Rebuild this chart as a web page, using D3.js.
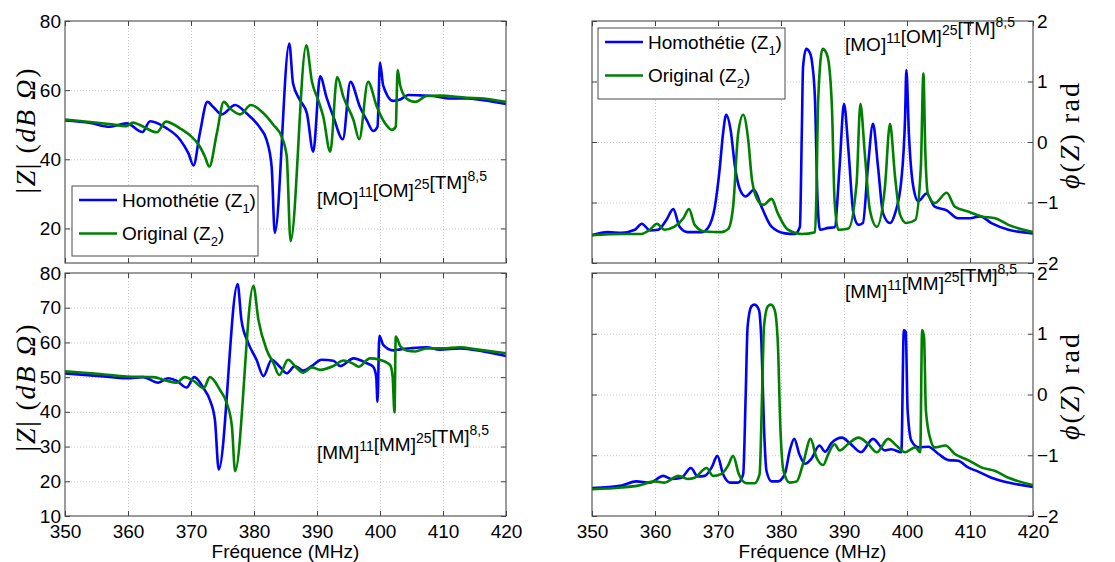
<!DOCTYPE html>
<html><head><meta charset="utf-8">
<script src="https://cdn.jsdelivr.net/npm/d3@7"></script>
<style>
body{margin:0;background:#fff;}
svg{display:block;background:#fff;}
</style></head><body>
<svg id="c" width="1115" height="562"></svg>
<script>
// ---------- data ----------
const freqDomain = [350, 420];
const freqTicks = [350, 360, 370, 380, 390, 400, 410, 420];
const magTopDomain = [10, 80];
const magTopTicks = [20, 40, 60, 80];
const magBotDomain = [10, 80];
const magBotTicks = [10, 20, 30, 40, 50, 60, 70, 80];
const phaseDomain = [-2, 2];
const phaseTicks = [-2, -1, 0, 1, 2];
const seriesLabels = ["Homothétie (Z", "Original (Z"];
const seriesSubs = ["1", "2"];
const seriesColors = ["#0000ff", "#008000"];
const topAnnot = [["[MO]", "11"], ["[OM]", "25"], ["[TM]", "8,5"]];
const botAnnot = [["[MM]", "11"], ["[MM]", "25"], ["[TM]", "8,5"]];
const xTitle = "Fréquence (MHz)";

// [frequency MHz, |Z| dB Ohm] — configuration [MO]11[OM]25[TM]8,5
const magTopZ1 = [[350,51.2],[354,50.5],[357.1,49.4],[359.8,50.4],[362.3,47.9],[363.5,51],[366.1,49],[368.3,45.6],[369.6,41.7],[370.4,38.2],[371.4,47.5],[372.6,56.6],[373.5,55.2],[374.9,53],[377,55.7],[378.8,53.3],[381,49],[382,45.6],[382.8,37.9],[383.3,18.7],[385.6,73.5],[386.2,61.9],[387.3,57.1],[388.4,53.3],[389.4,42.2],[390.5,64],[391.5,58],[392.6,52.3],[394.1,45.8],[395.3,62.4],[396.8,55.2],[397.9,51.3],[398.9,48.2],[399.6,49.4],[400,68],[400.5,61.4],[402.1,56.9],[403.2,57.3],[404.5,58.6],[406.3,58.5],[408.5,58.3],[411.1,57.6],[413.8,57.6],[416.4,57.1],[420,56]];
const magTopZ2 = [[350,51.5],[354,50.8],[357,50.2],[359.8,49.6],[360.8,50.6],[361.9,49.9],[364.6,47.8],[366,50.9],[368.3,48.9],[369.8,47],[371.4,43.7],[372.2,40.8],[372.9,37.9],[374.1,47.5],[375.2,56.6],[376.2,54.7],[377.8,53],[379.5,55.7],[381.5,53.3],[383.1,49.9],[384.4,46.5],[385.2,40.8],[385.8,16.3],[388.3,73],[389.2,62.4],[390.2,57.1],[391,52.3],[392.1,42.2],[393.2,63.8],[394.2,58],[395.8,51.3],[396.7,45.8],[398.1,62.4],[399.5,55.2],[400.8,50.4],[401.9,48.5],[402.5,49.4],[402.8,65.8],[403.2,61.4],[404.2,57.6],[405.6,56.6],[407.4,58.3],[409.5,58.4],[413.8,57.8],[416.4,57.6],[420,56.6]];
// [frequency MHz, phase rad] — configuration [MO]11[OM]25[TM]8,5
const phaseTopZ1 = [[350,-1.54],[352.5,-1.49],[354.7,-1.5],[356.8,-1.45],[357.9,-1.35],[359.2,-1.46],[360.5,-1.45],[361.8,-1.29],[362.9,-1.11],[363.9,-1.4],[365.2,-1.49],[367.4,-1.49],[368.4,-1.42],[369.5,-1.07],[370.3,-0.41],[370.8,0.14],[371.3,0.45],[372,0.2],[372.7,-0.41],[373.5,-0.79],[374.4,-0.9],[375.7,-0.79],[376.9,-1.07],[378.5,-1.4],[380.6,-1.51],[382.2,-1.52],[383,-1.4],[383.3,0.14],[383.5,1.24],[384,1.54],[384.6,1.47],[384.95,1.3],[385.4,0.69],[385.8,-0.96],[386.2,-1.45],[387.5,-1.42],[388.5,-1.41],[389.3,-0.41],[390,0.63],[390.7,-0.13],[391.5,-1.18],[392.3,-1.37],[393,-1.34],[393.8,-0.41],[394.6,0.3],[395.4,-0.41],[396.2,-1.18],[397.3,-1.34],[398.1,-1.18],[399.1,-0.63],[399.7,0.42],[399.9,1.19],[400.3,0.14],[401,-0.74],[401.8,-0.98],[403.1,-0.85],[404.4,-1.07],[406.3,-1.13],[408.1,-1.26],[410,-1.26],[411.6,-1.23],[413.4,-1.34],[416.1,-1.45],[420,-1.51]];
const phaseTopZ2 = [[350,-1.54],[354.7,-1.52],[357.8,-1.52],[359.2,-1.45],[360.3,-1.35],[361.5,-1.45],[363.1,-1.4],[364.5,-1.26],[365.4,-1.11],[366.3,-1.37],[367.9,-1.48],[370.5,-1.49],[371.6,-1.44],[372.4,-1.07],[373.2,0.14],[374,0.45],[374.8,0.03],[375.4,-0.63],[376.4,-0.98],[377.2,-1.04],[378.5,-0.94],[379.5,-1.18],[381.1,-1.45],[383.3,-1.52],[385.4,-1.49],[385.6,-0.96],[385.9,0.69],[386.6,1.54],[387.2,1.47],[387.6,1.3],[388.1,0.53],[388.5,-0.96],[389.1,-1.45],[390.7,-1.43],[392,-0.68],[392.6,0.63],[393.3,-0.19],[394.1,-1.12],[395.2,-1.4],[396.5,-0.74],[397.3,0.3],[398.1,-0.57],[398.9,-1.2],[399.9,-1.34],[401.3,-1.29],[402.2,-0.41],[402.6,1.13],[402.9,-0.13],[403.3,-0.85],[404.4,-1.01],[406.3,-0.84],[407.6,-1.07],[409.7,-1.15],[411.8,-1.23],[414,-1.26],[416.1,-1.37],[420,-1.49]];
// [frequency MHz, |Z| dB Ohm] — configuration [MM]11[MM]25[TM]8,5
const magBotZ1 = [[350,51.1],[355.6,50.3],[359.8,49.7],[362.4,50],[364.8,48.4],[366.4,49.7],[367.7,49],[369.3,47],[370.5,50],[372,46.8],[373,43.4],[373.8,37.6],[374.4,23.4],[377.4,76.8],[378,66.5],[379.1,59.8],[380.4,55],[381.5,50.3],[382.8,55],[384.1,53],[385.2,51.1],[386.5,53.2],[387.8,51.9],[389.4,53.5],[390.7,55],[392.6,54.7],[393.7,53.2],[395.8,55.4],[397.9,54],[398.9,53],[399.4,50.2],[399.6,42.9],[399.9,61.9],[400.5,59.3],[402.1,57.7],[403.2,58],[404.8,58.3],[407.4,58.6],[409.5,57.9],[412.7,58.3],[416.4,57.4],[420,56.1]];
const magBotZ2 = [[350,51.7],[355.6,50.9],[359.8,50.2],[364,50],[366.1,49],[367.7,48.4],[369,50],[370.6,48.7],[372,46.8],[373,50],[374.6,46.3],[375.7,42.4],[376.5,35.7],[377,22.9],[379.9,76.3],[380.7,66.5],[382,57.9],[383.1,54],[384,50.6],[385.4,55],[386.8,52.6],[387.8,51.3],[389.2,52.8],[390.5,52.1],[392.6,53.2],[394.2,54.8],[395.8,53.8],[396.6,53],[398.4,55.4],[400,55],[401.6,53.5],[402,50.2],[402.3,39.8],[402.5,61.7],[403.2,59],[404.2,57.7],[405.6,57.4],[407.4,58.3],[410,58.3],[412.7,58.6],[415.3,58],[420,56.9]];
// [frequency MHz, phase rad] — configuration [MM]11[MM]25[TM]8,5
const phaseBotZ1 = [[350,-1.54],[354.7,-1.5],[357,-1.43],[359.2,-1.45],[361.3,-1.34],[362.6,-1.39],[364.2,-1.37],[365.7,-1.21],[366.8,-1.35],[367.9,-1.34],[369,-1.2],[369.9,-1.01],[370.8,-1.31],[371.9,-1.45],[373.2,-1.45],[374,-1.31],[374.4,0.01],[374.7,1.12],[375.3,1.45],[375.8,1.48],[376.5,1.39],[376.9,0.84],[377.3,-0.54],[377.7,-1.26],[378.5,-1.43],[379.5,-1.43],[380.6,-1.31],[381.4,-0.92],[382.1,-0.73],[382.9,-0.98],[383.8,-1.14],[384.8,-1.06],[386.1,-0.84],[387,-0.94],[388,-0.8],[389.7,-0.71],[390.9,-0.8],[392.7,-0.95],[394.6,-0.73],[396.5,-0.92],[397.5,-0.9],[399.1,-0.95],[399.5,1.06],[399.8,1.03],[400.1,-0.26],[400.7,-0.76],[401.8,-0.87],[403.4,-0.86],[405,-0.98],[406.6,-1.08],[408.1,-1.09],[409.7,-1.2],[411.3,-1.27],[413.4,-1.37],[416.1,-1.45],[420,-1.52]];
const phaseBotZ2 = [[350,-1.56],[354.7,-1.53],[357.3,-1.5],[360,-1.43],[361.5,-1.45],[363.7,-1.34],[365.2,-1.39],[366.3,-1.37],[368.2,-1.21],[369.2,-1.34],[370.5,-1.31],[371.6,-1.17],[372.4,-1.01],[373.3,-1.31],[374.5,-1.46],[375.8,-1.46],[376.6,-1.31],[377,0.01],[377.3,1.12],[377.9,1.45],[378.4,1.48],[379,1.39],[379.5,0.84],[379.9,-0.54],[380.4,-1.26],[381.4,-1.45],[382.5,-1.43],[383.5,-1.14],[384.7,-0.73],[385.6,-1.03],[386.7,-1.16],[387.5,-0.98],[388.5,-0.82],[389.3,-0.92],[390.7,-0.81],[392.3,-0.71],[393.8,-0.81],[395.2,-0.95],[397,-0.73],[398.3,-0.84],[399.7,-0.95],[401.3,-0.87],[402.1,-0.95],[402.4,1.06],[402.7,0.95],[403,-0.26],[403.7,-0.73],[404.4,-0.87],[406.1,-0.84],[407.6,-0.98],[409.7,-1.08],[411.8,-1.2],[414,-1.26],[416.1,-1.37],[420,-1.49]];

// ---------- drawing ----------
const SANS = '"Liberation Sans", Arial, Helvetica, sans-serif';
const SERIF = '"Liberation Serif", "Times New Roman", serif';
const FS = 19;
const svg = d3.select("#c");
const defs = svg.append("defs");

function styleAxis(a) {
  a.select(".domain").remove();
  a.selectAll("line").attr("stroke", "#444").attr("stroke-width", 1);
  a.selectAll("text").attr("font-family", SANS).attr("font-size", FS).attr("fill", "#000");
}

function drawPanel(p) {
  const x = d3.scaleLinear().domain(freqDomain).range([p.x0, p.x1]);
  const y = d3.scaleLinear().domain(p.yDomain).range([p.y1, p.y0]);
  const w = p.x1 - p.x0, h = p.y1 - p.y0;
  const g = svg.append("g");
  g.append("rect").attr("x", p.x0).attr("y", p.y0).attr("width", w).attr("height", h).attr("fill", "#fff");

  // grid
  const gx = g.append("g").attr("transform", `translate(0,${p.y1})`)
    .call(d3.axisBottom(x).tickValues(freqTicks.slice(1, -1)).tickSize(-h).tickFormat(""));
  const gy = g.append("g").attr("transform", `translate(${p.x0},0)`)
    .call(d3.axisLeft(y).tickValues(p.yTicks.filter(v => v > p.yDomain[0] && v < p.yDomain[1])).tickSize(-w).tickFormat(""));
  [gx, gy].forEach(a => {
    a.select(".domain").remove();
    a.selectAll("line").attr("stroke", "#bdbdbd").attr("stroke-width", 0.8).attr("stroke-dasharray", "1,2");
  });

  // curves
  const cid = "clip" + p.id;
  defs.append("clipPath").attr("id", cid).append("rect")
    .attr("x", p.x0).attr("y", p.y0).attr("width", w).attr("height", h);
  const line = d3.line().x(d => x(d[0])).y(d => y(d[1])).curve(d3.curveMonotoneX);
  p.series.forEach((s, i) => {
    g.append("path").attr("d", line(s)).attr("fill", "none")
      .attr("stroke", seriesColors[i]).attr("stroke-width", 2.6)
      .attr("stroke-linejoin", "round").attr("clip-path", `url(#${cid})`);
  });

  // inward ticks + labels
  const tk = 5;
  const ab = g.append("g").attr("transform", `translate(0,${p.y1})`)
    .call(d3.axisBottom(x).tickValues(freqTicks).tickSizeInner(-tk).tickSizeOuter(0).tickPadding(9)
      .tickFormat(p.showX ? d3.format("d") : ""));
  styleAxis(ab);
  const at = g.append("g").attr("transform", `translate(0,${p.y0})`)
    .call(d3.axisTop(x).tickValues(freqTicks).tickSizeInner(-tk).tickSizeOuter(0).tickFormat(""));
  styleAxis(at);
  const al = g.append("g").attr("transform", `translate(${p.x0},0)`)
    .call(d3.axisLeft(y).tickValues(p.yTicks).tickSizeInner(-tk).tickSizeOuter(0).tickPadding(4)
      .tickFormat(p.labelSide === "left" ? d3.format("d") : ""));
  styleAxis(al);
  const ar = g.append("g").attr("transform", `translate(${p.x1},0)`)
    .call(d3.axisRight(y).tickValues(p.yTicks).tickSizeInner(-tk).tickSizeOuter(0).tickPadding(4)
      .tickFormat(p.labelSide === "right" ? d3.format("d") : ""));
  styleAxis(ar);

  // box
  g.append("rect").attr("x", p.x0).attr("y", p.y0).attr("width", w).attr("height", h)
    .attr("fill", "none").attr("stroke", "#4a4a4a").attr("stroke-width", 1.1);

  // annotation
  const an = g.append("text").attr("x", p.annot.x).attr("y", p.annot.y)
    .attr("font-family", SANS).attr("font-size", FS).attr("fill", "#000");
  p.annot.parts.forEach(([main, sup]) => {
    an.append("tspan").text(main);
    an.append("tspan").attr("dy", -8).attr("font-size", 14).text(sup);
    an.append("tspan").attr("dy", 8).attr("font-size", FS).text("");
  });

  // legend
  if (p.legend) {
    const L = p.legend;
    g.append("rect").attr("x", L.x).attr("y", L.y).attr("width", L.w).attr("height", L.h)
      .attr("fill", "#fff").attr("stroke", "#4a4a4a").attr("stroke-width", 1);
    seriesLabels.forEach((lab, i) => {
      const cy = L.y + 14 + i * 33.5;
      g.append("line").attr("x1", L.x + 7).attr("x2", L.x + 45).attr("y1", cy).attr("y2", cy)
        .attr("stroke", seriesColors[i]).attr("stroke-width", 2.6);
      const t = g.append("text").attr("x", L.x + 50).attr("y", cy + 6.5)
        .attr("font-family", SANS).attr("font-size", FS).attr("fill", "#000");
      t.append("tspan").text(lab);
      t.append("tspan").attr("dy", 6).attr("font-size", 13).text(seriesSubs[i]);
      t.append("tspan").attr("dy", -6).attr("font-size", FS).text(")");
    });
  }

  // x title
  if (p.showX) {
    svg.append("text").attr("x", (p.x0 + p.x1) / 2).attr("y", 558).attr("text-anchor", "middle")
      .attr("font-family", SANS).attr("font-size", FS).attr("fill", "#000").text(xTitle);
  }

  // y title
  const yt = svg.append("text").attr("transform", `translate(${p.ytitle.x},${p.ytitle.y}) rotate(-90)`)
    .attr("text-anchor", "middle").attr("dominant-baseline", "central")
    .attr("font-family", SERIF).attr("font-size", 28).attr("fill", "#000");
  p.ytitle.parts.forEach(([txt, it]) => {
    yt.append("tspan").attr("font-style", it ? "italic" : "normal").text(txt);
  });
  yt.attr("textLength", p.ytitle.len).attr("lengthAdjust", "spacing");
}

const magTitle = [["|", 0], ["Z", 1], ["| (", 0], ["dB", 1], [" ", 0], ["Ω", 1], [")", 0]];
const phaseTitle = [["ϕ", 1], ["(", 0], ["Z", 1], [")", 0], [" rad", 0]];

const L0 = 65, L1 = 506, R0 = 592, R1 = 1033, T0 = 21, T1 = 263, B0 = 273, B1 = 516;

drawPanel({ id: "tl", x0: L0, x1: L1, y0: T0, y1: T1, yDomain: magTopDomain, yTicks: magTopTicks,
  labelSide: "left", showX: false, series: [magTopZ1, magTopZ2],
  annot: { x: 317, y: 205, parts: topAnnot },
  legend: { x: 72, y: 186, w: 186, h: 70 },
  ytitle: { x: 25, y: 131, parts: magTitle, len: 125 } });
drawPanel({ id: "tr", x0: R0, x1: R1, y0: T0, y1: T1, yDomain: phaseDomain, yTicks: phaseTicks,
  labelSide: "right", showX: false, series: [phaseTopZ1, phaseTopZ2],
  annot: { x: 845, y: 51, parts: topAnnot },
  legend: { x: 598, y: 28, w: 187, h: 71 },
  ytitle: { x: 1069, y: 136, parts: phaseTitle, len: 106 } });
drawPanel({ id: "bl", x0: L0, x1: L1, y0: B0, y1: B1, yDomain: magBotDomain, yTicks: magBotTicks,
  labelSide: "left", showX: true, series: [magBotZ1, magBotZ2],
  annot: { x: 317, y: 459, parts: botAnnot },
  ytitle: { x: 25, y: 388, parts: magTitle, len: 127 } });
drawPanel({ id: "br", x0: R0, x1: R1, y0: B0, y1: B1, yDomain: phaseDomain, yTicks: phaseTicks,
  labelSide: "right", showX: true, series: [phaseBotZ1, phaseBotZ2],
  annot: { x: 845, y: 298, parts: botAnnot },
  ytitle: { x: 1069, y: 387, parts: phaseTitle, len: 106 } });
</script>
</body></html>
